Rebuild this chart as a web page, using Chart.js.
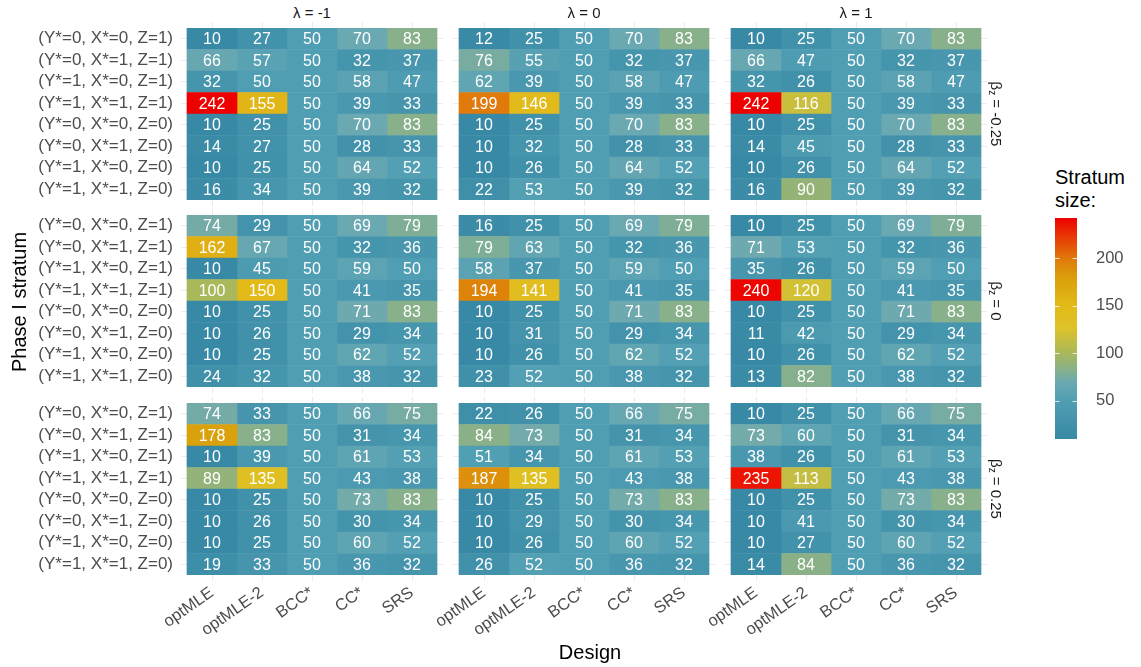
<!DOCTYPE html>
<html>
<head>
<meta charset="utf-8">
<script src="https://cdn.jsdelivr.net/npm/chart.js@4"></script>
<style>
  body { margin: 0; background: #fff; font-family: "Liberation Sans", Arial, sans-serif; }
  #page { position: relative; width: 1141px; height: 667px; overflow: hidden; background: #fff; }
  #page canvas { position: absolute; }
  .txt { position: absolute; white-space: nowrap; color: #1a1a1a; line-height: 1; }
</style>
</head>
<body>
<div id="page"></div>
<script>
// --- data ---
const designs = ["optMLE", "optMLE-2", "BCC*", "CC*", "SRS"];
const strata = [
  "(Y*=0, X*=0, Z=1)", "(Y*=0, X*=1, Z=1)", "(Y*=1, X*=0, Z=1)", "(Y*=1, X*=1, Z=1)",
  "(Y*=0, X*=0, Z=0)", "(Y*=0, X*=1, Z=0)", "(Y*=1, X*=0, Z=0)", "(Y*=1, X*=1, Z=0)"
];
const lambdaLabels = ["λ = -1", "λ = 0", "λ = 1"];
const betaValues = ["-0.25", "0", "0.25"];
const legendBreaks = [50, 100, 150, 200];

// rows = strata, columns = designs
const sizes_bNeg025_lNeg1 = [[10,27,50,70,83],[66,57,50,32,37],[32,50,50,58,47],[242,155,50,39,33],[10,25,50,70,83],[14,27,50,28,33],[10,25,50,64,52],[16,34,50,39,32]];
const sizes_bNeg025_l0    = [[12,25,50,70,83],[76,55,50,32,37],[62,39,50,58,47],[199,146,50,39,33],[10,25,50,70,83],[10,32,50,28,33],[10,26,50,64,52],[22,53,50,39,32]];
const sizes_bNeg025_l1    = [[10,25,50,70,83],[66,47,50,32,37],[32,26,50,58,47],[242,116,50,39,33],[10,25,50,70,83],[14,45,50,28,33],[10,26,50,64,52],[16,90,50,39,32]];
const sizes_b0_lNeg1      = [[74,29,50,69,79],[162,67,50,32,36],[10,45,50,59,50],[100,150,50,41,35],[10,25,50,71,83],[10,26,50,29,34],[10,25,50,62,52],[24,32,50,38,32]];
const sizes_b0_l0         = [[16,25,50,69,79],[79,63,50,32,36],[58,37,50,59,50],[194,141,50,41,35],[10,25,50,71,83],[10,31,50,29,34],[10,26,50,62,52],[23,52,50,38,32]];
const sizes_b0_l1         = [[10,25,50,69,79],[71,53,50,32,36],[35,26,50,59,50],[240,120,50,41,35],[10,25,50,71,83],[11,42,50,29,34],[10,26,50,62,52],[13,82,50,38,32]];
const sizes_b025_lNeg1    = [[74,33,50,66,75],[178,83,50,31,34],[10,39,50,61,53],[89,135,50,43,38],[10,25,50,73,83],[10,26,50,30,34],[10,25,50,60,52],[19,33,50,36,32]];
const sizes_b025_l0       = [[22,26,50,66,75],[84,73,50,31,34],[51,34,50,61,53],[187,135,50,43,38],[10,25,50,73,83],[10,29,50,30,34],[10,26,50,60,52],[26,52,50,36,32]];
const sizes_b025_l1       = [[10,25,50,66,75],[73,60,50,31,34],[38,26,50,61,53],[235,113,50,43,38],[10,25,50,73,83],[10,41,50,30,34],[10,27,50,60,52],[14,84,50,36,32]];

const panelGrid = [
  [sizes_bNeg025_lNeg1, sizes_bNeg025_l0, sizes_bNeg025_l1],
  [sizes_b0_lNeg1, sizes_b0_l0, sizes_b0_l1],
  [sizes_b025_lNeg1, sizes_b025_l0, sizes_b025_l1]
];

// colour ramp (Zissou1-like) as sampled from the figure, positions on 0..1 of the data range
const palette    = ["#3889A5", "#509EB3", "#6BA9B2", "#88B08A", "#A9B85B", "#DEC22A", "#E3BA18", "#D9A10C", "#E07A0A", "#EE0000"];
const paletteAt  = [0, 0.172, 0.259, 0.315, 0.388, 0.5, 0.603, 0.724, 0.815, 1];
const allSizes = panelGrid.flat(3);
const fillMin = Math.min(...allSizes);
const fillMax = Math.max(...allSizes);

const FONT = "'Liberation Sans', Arial, sans-serif";
const TICK_COLOR = "#4d4d4d";
const GRID_COLOR = "#ebebeb";

const paletteRgb = palette.map(h => [1, 3, 5].map(i => parseInt(h.slice(i, i + 2), 16)));

function fillColour(v) {
  const t = Math.min(1, Math.max(0, (v - fillMin) / (fillMax - fillMin)));
  let i = 0;
  while (i < paletteAt.length - 2 && t > paletteAt[i + 1]) i++;
  const f = (t - paletteAt[i]) / (paletteAt[i + 1] - paletteAt[i]);
  const a = paletteRgb[i], b = paletteRgb[i + 1];
  const c = a.map((x, k) => Math.round(x + (b[k] - x) * f));
  return `rgb(${c[0]},${c[1]},${c[2]})`;
}

// --- layout (pixels) ---
const page = document.getElementById("page");
const tileLeft = [187, 459, 731];
const tileTop = [28, 215, 403];
const tileW = 250, tileH = 172;
const overhang = 6;          // grid lines stick out past the tiles
const bottomLabelH = 92;
const unitPad = overhang / (tileW / designs.length);

function addText(html, css) {
  const d = document.createElement("div");
  d.className = "txt";
  d.innerHTML = html;
  Object.assign(d.style, css);
  page.appendChild(d);
  return d;
}

function addCanvas(left, top, w, h) {
  const c = document.createElement("canvas");
  c.width = w; c.height = h;
  c.style.left = left + "px"; c.style.top = top + "px";
  c.style.width = w + "px"; c.style.height = h + "px";
  page.appendChild(c);
  return c;
}

// numbers written inside each tile
const cellLabels = {
  id: "cellLabels",
  afterDatasetsDraw(chart) {
    const ctx = chart.ctx;
    ctx.save();
    ctx.font = "16px " + FONT;
    ctx.fillStyle = "#ffffff";
    ctx.textAlign = "center";
    ctx.textBaseline = "middle";
    chart.data.datasets.forEach((ds, di) => {
      chart.getDatasetMeta(di).data.forEach((bar, i) => {
        const p = bar.getCenterPoint();
        ctx.fillText(String(ds.sizes[i]), p.x, p.y + 1);
      });
    });
    ctx.restore();
  }
};

function drawPanel(row, col) {
  const values = panelGrid[row][col];
  const showY = col === 0;
  const showX = row === 2;
  const chartLeft = tileLeft[col] - overhang;
  const yAxisW = showY ? chartLeft : 90;
  const bottomH = showX ? bottomLabelH : overhang;
  const w = yAxisW + tileW + 2 * overhang;
  const h = overhang + tileH + bottomH;
  const canvas = addCanvas(chartLeft - yAxisW, tileTop[row] - overhang, w, h);

  const centreTicks = scale => { scale.ticks = designs.map((d, i) => ({ value: i + 0.5 })); };

  new Chart(canvas, {
    type: "bar",
    data: {
      labels: strata,
      datasets: designs.map((d, c) => ({
        label: d,
        data: strata.map(() => [c, c + 1]),
        sizes: values.map(r => r[c]),
        backgroundColor: values.map(r => fillColour(r[c])),
        borderWidth: 0,
        grouped: false,
        barPercentage: 1,
        categoryPercentage: 1
      }))
    },
    options: {
      indexAxis: "y",
      responsive: false,
      animation: false,
      layout: { padding: 0 },
      plugins: { legend: { display: false }, tooltip: { enabled: false } },
      scales: {
        x: {
          type: "linear",
          position: "bottom",
          min: -unitPad,
          max: designs.length + unitPad,
          afterBuildTicks: centreTicks,
          border: { display: false },
          grid: { color: GRID_COLOR, tickColor: GRID_COLOR, tickLength: overhang, drawTicks: true },
          ticks: {
            display: showX,
            autoSkip: false,
            minRotation: 35,
            maxRotation: 35,
            padding: 2,
            color: TICK_COLOR,
            font: { family: FONT, size: 16.5 },
            callback: (v, i) => designs[i]
          },
          afterFit: s => { s.height = bottomH; s.paddingLeft = 0; s.paddingRight = 0; }
        },
        xTop: {
          type: "linear",
          position: "top",
          axis: "x",
          min: -unitPad,
          max: designs.length + unitPad,
          afterBuildTicks: centreTicks,
          border: { display: false },
          grid: { drawOnChartArea: false, tickColor: GRID_COLOR, tickLength: overhang },
          ticks: { display: false },
          afterFit: s => { s.height = overhang; s.paddingLeft = 0; s.paddingRight = 0; }
        },
        y: {
          type: "category",
          offset: true,
          border: { display: false },
          grid: { offset: false, color: GRID_COLOR, drawTicks: false },
          ticks: {
            display: showY,
            autoSkip: false,
            padding: 8,
            color: TICK_COLOR,
            font: { family: FONT, size: 17 }
          },
          afterFit: s => { s.width = yAxisW; s.paddingTop = 0; s.paddingBottom = 0; }
        }
      }
    },
    plugins: [cellLabels]
  });
}

for (let r = 0; r < 3; r++) {
  for (let c = 0; c < 3; c++) drawPanel(r, c);
}

// --- facet strips ---
lambdaLabels.forEach((lab, c) => {
  addText(lab, {
    left: (tileLeft[c] + tileW / 2) + "px", top: "12px",
    transform: "translate(-50%, -50%)", fontSize: "15px"
  });
});
betaValues.forEach((b, r) => {
  addText("β<sub style='font-size:10px;vertical-align:-2px'>z</sub> = " + b, {
    left: "995px", top: (tileTop[r] + tileH / 2) + "px",
    transform: "translate(-50%, -50%) rotate(90deg)", fontSize: "15px"
  });
});

// --- axis titles ---
addText("Phase I stratum", {
  left: "19px", top: "302px", transform: "translate(-50%, -50%) rotate(-90deg)",
  fontSize: "20px", color: "#000"
});
addText("Design", {
  left: "590px", top: "652px", transform: "translate(-50%, -50%)",
  fontSize: "20px", color: "#000"
});

// --- colour bar legend ---
addText("Stratum<br>size:", {
  left: "1055px", top: "166px", fontSize: "20px", lineHeight: "23px", color: "#000"
});

const barTop = 218, barH = 221, barW = 22, barLeft = 1055, legendPad = 12;
const legendCanvas = addCanvas(barLeft, barTop - legendPad, barW + 60, barH + 2 * legendPad);

const colourbarTicks = {
  id: "colourbarTicks",
  afterDatasetsDraw(chart) {
    const { ctx, chartArea, scales } = chart;
    const len = (chartArea.right - chartArea.left) / 5;
    ctx.save();
    ctx.strokeStyle = "rgba(255,255,255,0.8)";
    ctx.lineWidth = 1;
    legendBreaks.forEach(v => {
      const y = Math.round(scales.y.getPixelForValue(v)) + 0.5;
      ctx.beginPath();
      ctx.moveTo(chartArea.left, y); ctx.lineTo(chartArea.left + len, y);
      ctx.moveTo(chartArea.right - len, y); ctx.lineTo(chartArea.right, y);
      ctx.stroke();
    });
    ctx.restore();
  }
};

new Chart(legendCanvas, {
  type: "bar",
  data: {
    labels: ["size"],
    datasets: [{
      data: [[fillMin, fillMax]],
      borderWidth: 0,
      barPercentage: 1,
      categoryPercentage: 1,
      backgroundColor: ctx => {
        const chart = ctx.chart;
        const area = chart.chartArea;
        if (!area) return palette[0];
        const y = chart.scales.y;
        const g = chart.ctx.createLinearGradient(0, y.getPixelForValue(fillMin), 0, y.getPixelForValue(fillMax));
        for (let k = 0; k <= 60; k++) {
          g.addColorStop(k / 60, fillColour(fillMin + (fillMax - fillMin) * k / 60));
        }
        return g;
      }
    }]
  },
  options: {
    responsive: false,
    animation: false,
    layout: { padding: { top: legendPad, bottom: legendPad } },
    plugins: { legend: { display: false }, tooltip: { enabled: false } },
    scales: {
      x: { display: false },
      y: {
        position: "right",
        min: fillMin,
        max: fillMax,
        afterBuildTicks: s => { s.ticks = legendBreaks.map(v => ({ value: v })); },
        border: { display: false },
        grid: { display: false },
        ticks: { padding: 11, color: TICK_COLOR, font: { family: FONT, size: 16.5 } },
        afterFit: s => { s.width = 60; s.paddingTop = 0; s.paddingBottom = 0; }
      }
    }
  },
  plugins: [colourbarTicks]
});
</script>
</body>
</html>
